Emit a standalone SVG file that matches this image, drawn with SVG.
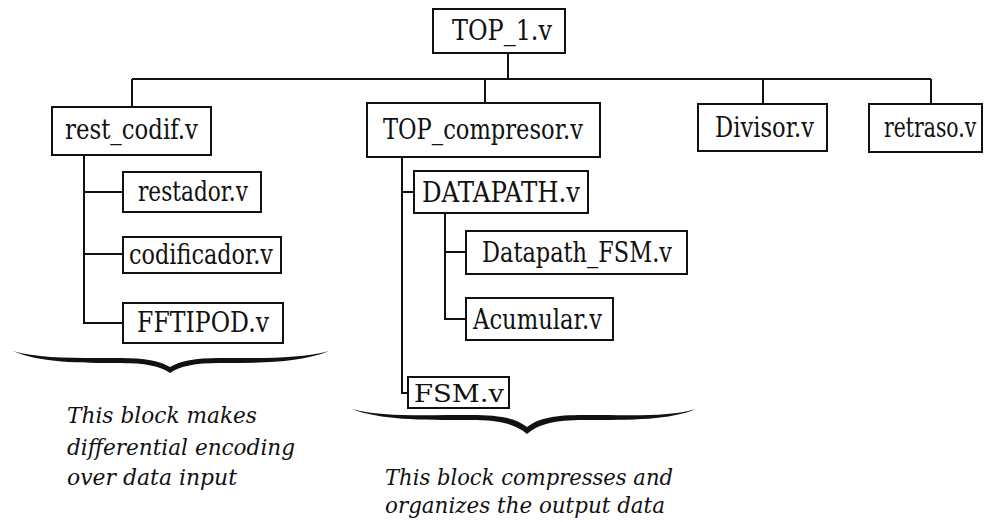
<svg xmlns="http://www.w3.org/2000/svg" width="985" height="522" viewBox="0 0 985 522">
<style>
.box{fill:#fff;stroke:#111;stroke-width:2}
.con{fill:none;stroke:#111;stroke-width:2}
.brace{fill:#111;stroke:none}
</style>
<rect width="985" height="522" fill="#fff"/>
<g id="connectors">
<path class="con" d="M508,53 V79 M132,79 H931 M132,79 V107 M485,79 V103 M763,79 V104 M931,79 V103"/>
<path class="con" d="M84,155 V323 H123 M84,192 H123 M84,254 H123"/>
<path class="con" d="M402,157 V393 H408 M402,192 H414"/>
<path class="con" d="M445,213 V319 H466 M445,252 H466"/>
</g>
<g font-family="'DejaVu Serif', 'Liberation Serif', serif" font-size="27" fill="#111">
<g id="TOP_1"><rect class="box" x="433" y="9" width="132" height="44"/><text x="452" y="40" textLength="100" lengthAdjust="spacingAndGlyphs">TOP_1.v</text></g>
<g id="rest_codif"><rect class="box" x="52" y="107" width="159" height="48"/><text x="65" y="139" textLength="133" lengthAdjust="spacingAndGlyphs">rest_codif.v</text></g>
<g id="TOP_compresor"><rect class="box" x="367" y="103" width="233" height="54"/><text x="383" y="139" textLength="200" lengthAdjust="spacingAndGlyphs">TOP_compresor.v</text></g>
<g id="Divisor"><rect class="box" x="698" y="104" width="129" height="47"/><text x="715" y="137" textLength="99" lengthAdjust="spacingAndGlyphs">Divisor.v</text></g>
<g id="retraso"><rect class="box" x="869" y="104" width="113" height="48"/><text transform="translate(884,137) scale(0.75,1)" x="0" y="0" textLength="123" lengthAdjust="spacingAndGlyphs">retraso.v</text></g>
<g id="restador"><rect class="box" x="123" y="172" width="138" height="40"/><text x="138" y="201" textLength="110" lengthAdjust="spacingAndGlyphs">restador.v</text></g>
<g id="codificador"><rect class="box" x="123" y="237" width="158" height="36"/><text x="129" y="264" textLength="144" lengthAdjust="spacingAndGlyphs">codificador.v</text></g>
<g id="FFTIPOD"><rect class="box" x="123" y="303" width="160" height="40"/><text x="137" y="332" textLength="132" lengthAdjust="spacingAndGlyphs">FFTIPOD.v</text></g>
<g id="DATAPATH"><rect class="box" x="414" y="171" width="174" height="42"/><text x="422" y="202" textLength="158" lengthAdjust="spacingAndGlyphs">DATAPATH.v</text></g>
<g id="Datapath_FSM"><rect class="box" x="466" y="231" width="221" height="43"/><text x="482" y="262" textLength="190" lengthAdjust="spacingAndGlyphs">Datapath_FSM.v</text></g>
<g id="Acumular"><rect class="box" x="466" y="298" width="147" height="42"/><text x="473" y="329" textLength="129" lengthAdjust="spacingAndGlyphs">Acumular.v</text></g>
<g id="FSM"><rect class="box" x="408" y="377" width="101" height="31"/><text x="414" y="402" font-size="25" textLength="90" lengthAdjust="spacingAndGlyphs">FSM.v</text></g>
</g>
<g font-family="'DejaVu Serif', 'Liberation Serif', serif" font-style="italic" font-size="22" fill="#111">
<g id="brace1">
<path class="brace" d="M13,351 C40,363 80,363 120,363 C145,363 160,366 170,373 C180,366 195,363 220,363 C260,363 300,363 329,351 C300,359 260,358 220,358 C195,358 180,361 170,367 C160,361 145,358 120,358 C80,358 40,359 13,351 Z"/>
<text x="67" y="423" textLength="190" lengthAdjust="spacingAndGlyphs">This block makes</text>
<text x="67" y="455" textLength="228" lengthAdjust="spacingAndGlyphs">differential encoding</text>
<text x="67" y="485" textLength="170" lengthAdjust="spacingAndGlyphs">over data input</text>
</g>
<g id="brace2">
<path class="brace" d="M352,409 C380,420 420,420 470,420 C500,420 515,424 527,434 C539,424 554,420 584,420 C634,420 670,420 696,409 C670,417 634,415 584,415 C554,415 539,418 527,427 C515,418 500,415 470,415 C420,415 380,417 352,409 Z"/>
<text x="385" y="485" textLength="288" lengthAdjust="spacingAndGlyphs">This block compresses and</text>
<text x="385" y="513" textLength="280" lengthAdjust="spacingAndGlyphs">organizes the output data</text>
</g>
</g>
</svg>
